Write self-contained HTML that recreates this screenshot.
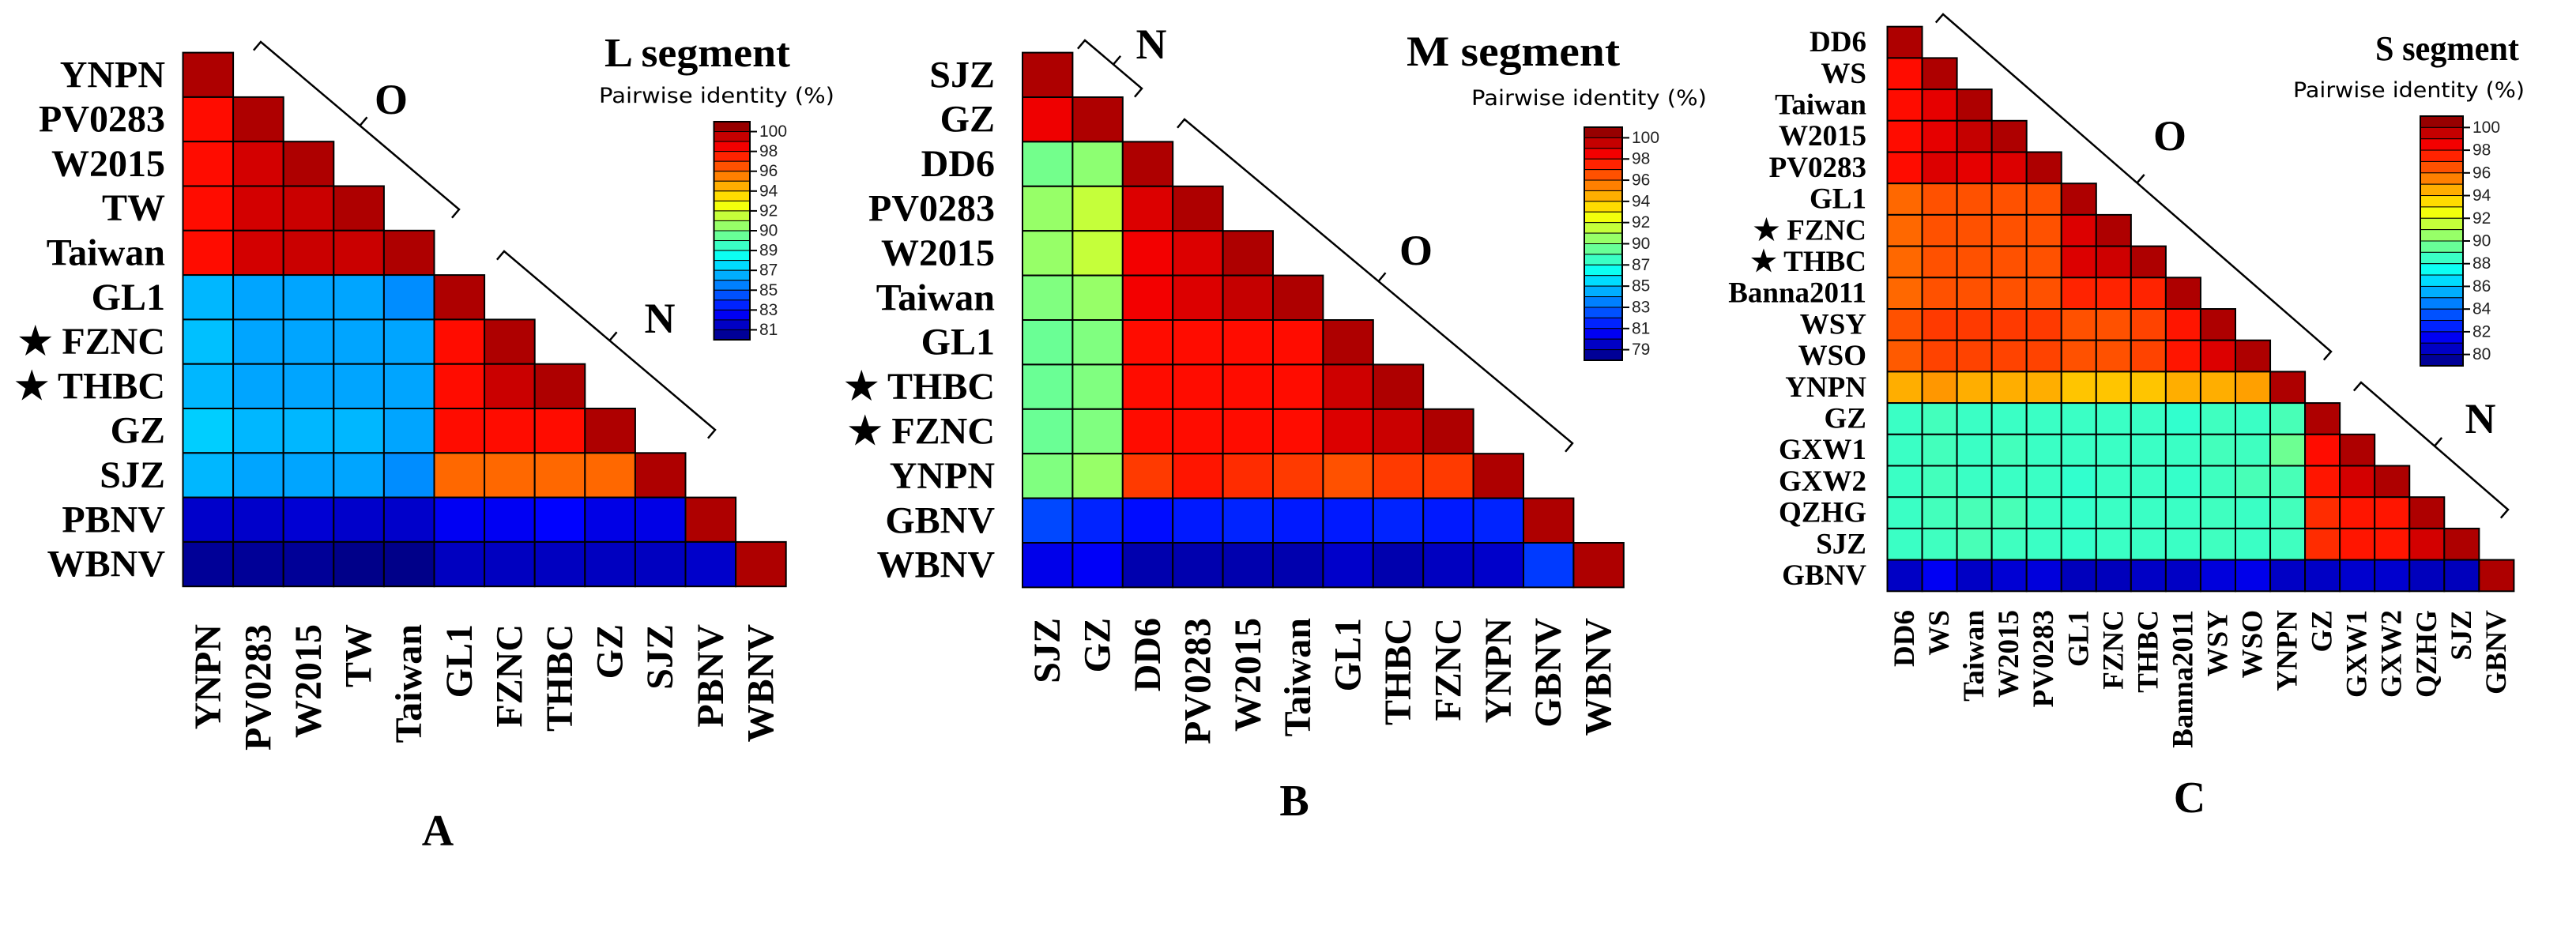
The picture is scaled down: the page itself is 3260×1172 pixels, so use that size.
<!DOCTYPE html>
<html><head><meta charset="utf-8"><style>
html,body{margin:0;padding:0;background:#fff;}
svg{display:block;}
</style></head><body>
<svg id="fig" width="3260" height="1172" viewBox="0 0 3260 1172" xmlns="http://www.w3.org/2000/svg"></svg>
<script>
// ---------- Panel A (L segment) data ----------
const labelsL = ["YNPN","PV0283","W2015","TW","Taiwan","GL1","★ FZNC","★ THBC","GZ","SJZ","PBNV","WBNV"];
const colLabelsL = ["YNPN","PV0283","W2015","TW","Taiwan","GL1","FZNC","THBC","GZ","SJZ","PBNV","WBNV"];
const valuesL = [
 [100],
 [98,100],
 [98,99.2,100],
 [98,99.2,99.4,100],
 [98,99.2,99.4,99.4,100],
 [86.7,86.3,86.3,86.3,85.8,100],
 [86.9,86.3,86.3,86.3,86.3,98,100],
 [86.7,86.3,86.3,86.3,86.3,98,99.4,100],
 [87.2,86.7,86.7,86.7,86.3,98,98,98,100],
 [86.7,86.3,86.3,86.3,85.8,96,96,96,96,100],
 [81.6,81.6,81.8,81.6,81.6,82.5,82.5,82.8,82.2,82.2,100],
 [80.5,80.5,80.5,80.2,80.2,81.4,81.4,81.4,81.4,81.4,81.6,100]
];
const ticksL = [100,98,96,94,92,90,89,87,85,83,81];

// ---------- Panel B (M segment) data ----------
const labelsM = ["SJZ","GZ","DD6","PV0283","W2015","Taiwan","GL1","★ THBC","★ FZNC","YNPN","GBNV","WBNV"];
const colLabelsM = ["SJZ","GZ","DD6","PV0283","W2015","Taiwan","GL1","THBC","FZNC","YNPN","GBNV","WBNV"];
const valuesM = [
 [100],
 [98.6,100],
 [89.6,90.3,100],
 [90.5,91.5,99,100],
 [90.5,91.5,98.5,99,100],
 [90,90.5,98.5,99,99.5,100],
 [89.3,90,98,98,98,98,100],
 [89.3,90,98,98,98,98,99.3,100],
 [89.3,90,98,98,98,98,99,99.4,100],
 [90,90.5,97,97.8,97.3,97,96.5,97,97,100],
 [82.3,81.5,81,81.3,81.5,81.3,81.3,81.5,81.3,81.5,100],
 [80.3,80.6,79,79,79,79,79.6,79,79.4,79.6,82,100]
];
const ticksM = [100,98,96,94,92,90,87,85,83,81,79];

// ---------- Panel C (S segment) data ----------
const labelsS = ["DD6","WS","Taiwan","W2015","PV0283","GL1","★ FZNC","★ THBC","Banna2011","WSY","WSO","YNPN","GZ","GXW1","GXW2","QZHG","SJZ","GBNV"];
const colLabelsS = ["DD6","WS","Taiwan","W2015","PV0283","GL1","FZNC","THBC","Banna2011","WSY","WSO","YNPN","GZ","GXW1","GXW2","QZHG","SJZ","GBNV"];
const valuesS = [
 [100],
 [98,100],
 [98,98.8,100],
 [98,98.8,99.5,100],
 [98,99,98.8,99,100],
 [96,96.5,96.5,96.5,96.5,100],
 [96,96.5,96.5,96.5,96.5,99,100],
 [96,96.5,96.5,96.5,96.5,99,99.3,100],
 [96,96.5,96.5,96.5,96.5,97.5,97.5,97.5,100],
 [96.5,97,97,97,97,96.5,96.5,96.8,97.8,100],
 [96.3,96.8,96.8,96.8,96.8,96.5,96.5,96.8,97.8,99,100],
 [94.5,95,94.5,94.5,94.5,94,94,94,94.5,94.5,94.8,100],
 [88.5,88.7,88.5,88.5,88.5,88.5,88.5,88.5,88.3,88.6,88.5,88.8,100],
 [88.5,88.7,88.5,88.7,88.5,88.5,88.5,88.5,88.5,88.7,88.6,89.6,98,100],
 [88.5,88.7,88.5,88.5,88.5,88.3,88.5,88.5,88.4,88.6,88.8,88.8,97.8,99.2,100],
 [88.5,88.7,88.8,88.8,88.5,88.4,88.5,88.5,88.5,88.6,88.5,88.7,97.3,97.8,97.8,100],
 [88.5,88.6,88.8,88.6,88.5,88.4,88.5,88.5,88.5,88.6,88.5,88.6,97.3,97.8,97.8,99.2,100],
 [80.5,81.5,80.5,80.8,81,80.3,80.3,80.5,80.5,81,81.3,80.5,80.5,80.7,80.7,80.3,80.3,100]
];
const ticksS = [100,98,96,94,92,90,88,86,84,82,80];

const NS = "http://www.w3.org/2000/svg";
const svg = document.getElementById('fig');
const NBANDS = 22;

function mk(tag, attrs, parent){
  const e = document.createElementNS(NS, tag);
  for (const k in attrs) e.setAttribute(k, attrs[k]);
  (parent||svg).appendChild(e);
  return e;
}
function clamp(v){return Math.max(0,Math.min(1,v));}
function jet(t){
  const r=clamp(1.5-Math.abs(4*t-3)), g=clamp(1.5-Math.abs(4*t-2)), b=clamp(1.5-Math.abs(4*t-1));
  return "rgb("+Math.round(r*255)+","+Math.round(g*255)+","+Math.round(b*255)+")";
}
function bandPos(v, ticks){
  if (v >= ticks[0]) return Math.max(0, 1 - (v-ticks[0])/(ticks[0]-ticks[1])*2);
  for (let k=0;k<ticks.length-1;k++){
    if (v <= ticks[k] && v >= ticks[k+1]) return 1 + 2*k + 2*(ticks[k]-v)/(ticks[k]-ticks[k+1]);
  }
  const n=ticks.length;
  return Math.min(NBANDS, 1 + 2*(n-1) + 2*(ticks[n-1]-v)/(ticks[n-2]-ticks[n-1]));
}
function colorFor(v, ticks){ return jet(clamp(1 - bandPos(v,ticks)/NBANDS)); }

function drawPanel(p){
  const g = mk('g', {});
  
  
  const xAt = i => p.x0 + i*p.cw;
  const yAt = j => p.y0 + j*p.ch;
  p.values.forEach((row, j) => {
    row.forEach((v, i) => {
      const r = mk('rect', {x:xAt(i), y:yAt(j), width:p.cw, height:p.ch, fill:colorFor(v,p.ticks), stroke:'#000', 'stroke-width':2}, g);
      
      
    });
  });
  p.labels.forEach((lab, j) => {
    const t = mk('text', {x:p.rowX, y:yAt(j)+p.ch/2, 'text-anchor':'end', 'dominant-baseline':'central',
      'font-family':'"Liberation Serif","DejaVu Serif",serif', 'font-weight':'bold', 'font-size':p.fs}, g);
    t.textContent = lab;
    
    
  });
  p.colLabels.forEach((lab, i) => {
    const cx = xAt(i)+p.cw/2, cy = p.colY;
    const t = mk('text', {x:cx, y:cy, transform:'rotate(-90 '+cx+' '+cy+')', 'text-anchor':'end', 'dominant-baseline':'central',
      'font-family':'"Liberation Serif",serif', 'font-weight':'bold', 'font-size':p.fs}, g);
    t.textContent = lab;
    
    
  });
  const ti = mk('text', {x:p.tx, y:p.ty, 'font-family':'"Liberation Serif",serif', 'font-weight':'bold', 'font-size':p.tfs, textLength:p.tw, lengthAdjust:'spacingAndGlyphs'}, g);
  ti.textContent = p.title;
  
  
  const pw = mk('text', {x:p.px, y:p.py, 'font-family':'"DejaVu Sans","Liberation Sans",sans-serif', 'font-size':27, textLength:p.pw, lengthAdjust:'spacingAndGlyphs'}, g);
  pw.textContent = 'Pairwise identity (%)';
  
  
  const cb = mk('g', {}, g);
  
  
  const bh = p.cbh/NBANDS;
  for (let b=0;b<NBANDS;b++){
    const r = mk('rect', {x:p.cbx, y:p.cby+b*bh, width:p.cbw, height:bh, fill:jet(1-(b+0.5)/NBANDS), stroke:'#000', 'stroke-width':1}, cb);
    
    
  }
  mk('rect', {x:p.cbx, y:p.cby, width:p.cbw, height:p.cbh, fill:'none', stroke:'#000', 'stroke-width':2}, cb);
  p.ticks.forEach((tv) => {
    const y = p.cby + bandPos(tv, p.ticks)*bh;
    mk('line', {x1:p.cbx+p.cbw, y1:y, x2:p.cbx+p.cbw+9, y2:y, stroke:'#000', 'stroke-width':2}, cb);
    const t = mk('text', {x:p.cbx+p.cbw+12, y:y, 'dominant-baseline':'central', 'font-family':'"Liberation Sans",sans-serif', 'font-size':21, fill:'#222'}, cb);
    t.textContent = tv;
    
    
  });
  p.brackets.forEach(b => {
    const dx=b[2]-b[0], dy=b[3]-b[1], L=Math.hypot(dx,dy);
    const nx=-dy/L, ny=dx/L;
    const h=14;
    const mx=(b[0]+b[2])/2, my=(b[1]+b[3])/2;
    const path = 'M'+(b[0]+nx*h)+' '+(b[1]+ny*h)+' L'+b[0]+' '+b[1]+' L'+b[2]+' '+b[3]+' L'+(b[2]+nx*h)+' '+(b[3]+ny*h)+
      ' M'+mx+' '+my+' L'+(mx-nx*h)+' '+(my-ny*h);
    const pth = mk('path', {d:path, fill:'none', stroke:'#000', 'stroke-width':2.5}, g);
    
    
    const t = mk('text', {x:b[5], y:b[6], 'text-anchor':'middle', 'dominant-baseline':'central', 'font-family':'"Liberation Serif",serif', 'font-weight':'bold', 'font-size':54}, g);
    t.textContent = b[4];
    
    
  });
  const pl = mk('text', {x:p.lx, y:p.ly, 'text-anchor':'middle', 'dominant-baseline':'central', 'font-family':'"Liberation Serif",serif', 'font-weight':'bold', 'font-size':56}, g);
  pl.textContent = p.letter;
  
  
}

drawPanel({name:'panel-a-l-segment', labels:labelsL, colLabels:colLabelsL, values:valuesL, ticks:ticksL,
  x0:231.5, y0:66.6, cw:63.6, ch:56.3, rowX:209, colY:790, fs:48,
  title:'L segment', tx:765, ty:84, tfs:52, tw:235, px:758, py:130, pw:298,
  cbx:903.5, cby:154, cbw:45.5, cbh:276,
  brackets:[[330,53,581,265,'O',495,126],[638,318,905,544,'N',835,403]],
  letter:'A', lx:554, ly:1052});
drawPanel({name:'panel-b-m-segment', labels:labelsM, colLabels:colLabelsM, values:valuesM, ticks:ticksM,
  x0:1294, y0:66.6, cw:63.4, ch:56.4, rowX:1259, colY:782, fs:48,
  title:'M segment', tx:1780, ty:83, tfs:54, tw:270, px:1862, py:133, pw:298,
  cbx:2005, cby:161, cbw:48, cbh:295,
  brackets:[[1373,51,1445,112,'N',1457,56],[1499,151,1990,561,'O',1792,317]],
  letter:'B', lx:1638, ly:1014});
drawPanel({name:'panel-c-s-segment', labels:labelsS, colLabels:colLabelsS, values:valuesS, ticks:ticksS,
  x0:2388.5, y0:33.7, cw:44.05, ch:39.7, rowX:2362, colY:772, fs:37,
  title:'S segment', tx:3006, ty:76, tfs:44, tw:182, px:2902, py:123, pw:293,
  cbx:3063, cby:147, cbw:54, cbh:316,
  brackets:[[2459,18,2950,445,'O',2746,172],[2988,484,3174,645,'N',3139,530]],
  letter:'C', lx:2771, ly:1010});
</script>
</body></html>
